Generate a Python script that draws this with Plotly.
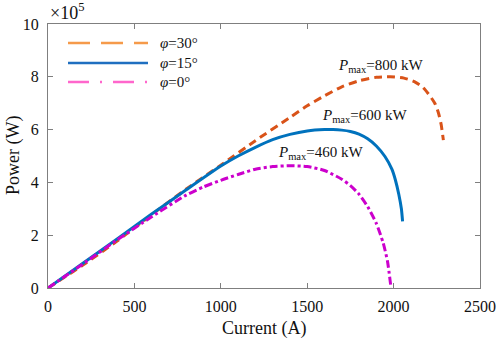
import plotly.graph_objects as go

# ---------------- data (power in units of 10^5 W) ----------------
labels = ["φ=30°", "φ=15°", "φ=0°"]

i30 = [0, 200, 400, 600, 800, 1000, 1200, 1400, 1500, 1600, 1700, 1800, 1900, 1980,
       2060, 2120, 2170, 2210, 2240, 2260, 2275, 2288]
p30 = [0, 0.86, 1.78, 2.78, 3.75, 4.65, 5.58, 6.46, 6.9, 7.28, 7.62, 7.85, 7.98, 8.0,
       7.95, 7.82, 7.6, 7.28, 6.98, 6.62, 6.2, 5.6]

i15 = [0, 200, 400, 600, 800, 1000, 1100, 1200, 1300, 1400, 1500, 1600, 1650, 1700,
       1750, 1800, 1850, 1900, 1950, 1990, 2010, 2030, 2045, 2052]
p15 = [0, 0.93, 1.86, 2.8, 3.72, 4.62, 5.0, 5.33, 5.62, 5.82, 5.95, 6.0, 6.0, 5.98,
       5.93, 5.83, 5.65, 5.38, 4.98, 4.5, 4.1, 3.55, 3.0, 2.52]

i0 = [0, 200, 400, 600, 800, 900, 1000, 1100, 1200, 1300, 1400, 1500, 1600, 1700,
      1750, 1800, 1850, 1900, 1940, 1965, 1985]
p0 = [0, 0.9, 1.82, 2.7, 3.52, 3.83, 4.08, 4.3, 4.5, 4.6, 4.63, 4.6, 4.45, 4.12,
      3.88, 3.55, 3.08, 2.45, 1.7, 1.0, 0]

pmax_text = ["800 kW", "600 kW", "460 kW"]
x_ticks = [0, 500, 1000, 1500, 2000, 2500]
y_ticks = [0, 2, 4, 6, 8, 10]

# ---------------- styles ----------------
FONT = "Liberation Serif"
TXT = "#111111"
curve_colors = ["#D95319", "#0072BD", "#CC00CC"]
legend_colors = ["#F59A4A", "#1F6FC0", "#FF66CC"]
curve_dash = ["8px,5px", "solid", "8px,3px,3px,3px"]
legend_dash = ["22px,11px", "solid", "21px,11px,2px,11px"]

W, H = 498, 339
ML, MT = 48, 24
PW, PH = 432, 264
MR, MB = W - ML - PW, H - MT - PH


def px_to_paper(px, py):
    """page pixel -> paper coordinates"""
    return (px - ML) / PW, (MT + PH - py) / PH


fig = go.Figure()
series = [(i30, p30), (i15, p15), (i0, p0)]
for k, (xs, ys) in enumerate(series):
    fig.add_trace(go.Scatter(x=xs, y=ys, mode="lines", showlegend=False,
                             line=dict(color=curve_colors[k], width=3, dash=curve_dash[k],
                                       shape="spline", smoothing=0.6)))

# manual legend (long line samples as in the reference)
legend_rows = [43, 63, 82]
for k in range(3):
    x0, yk = px_to_paper(68, legend_rows[k])
    x1, _ = px_to_paper(148, legend_rows[k])
    xt, _ = px_to_paper(158, legend_rows[k])
    fig.add_shape(type="line", xref="paper", yref="paper", x0=x0, x1=x1, y0=yk, y1=yk,
                  line=dict(color=legend_colors[k], width=2.5, dash=legend_dash[k]))
    sym, val = labels[k].split("=")
    fig.add_annotation(x=xt, y=yk, xref="paper", yref="paper", xanchor="left",
                       yanchor="middle", showarrow=False,
                       text="<i>" + sym + "</i>=" + val,
                       font=dict(family=FONT, size=15, color=TXT))

ann_pos = [(1927, 8.42), (1830, 6.5), (1576, 5.13)]
for k in range(3):
    fig.add_annotation(x=ann_pos[k][0], y=ann_pos[k][1], xref="x", yref="y",
                       text="<i>P</i><sub>max</sub>=" + pmax_text[k], showarrow=False,
                       font=dict(family=FONT, size=15, color=TXT))

# exponent label
ex, ey = px_to_paper(48, 25)
fig.add_annotation(x=ex, y=ey, xref="paper", yref="paper", xanchor="left", yanchor="bottom",
                   text="×10<sup>5</sup>", showarrow=False,
                   font=dict(family=FONT, size=18, color=TXT))

# axis titles
tx, ty = px_to_paper(264, 328)
fig.add_annotation(x=tx, y=ty, xref="paper", yref="paper", xanchor="center", yanchor="middle",
                   text="Current (A)", showarrow=False,
                   font=dict(family=FONT, size=18, color=TXT))
tx, ty = px_to_paper(13, 156)
fig.add_annotation(x=tx, y=ty, xref="paper", yref="paper", xanchor="center", yanchor="middle",
                   text="Power (W)", textangle=-90, showarrow=False,
                   font=dict(family=FONT, size=18, color=TXT))

axis_common = dict(showline=True, linecolor="#7f7f7f", linewidth=1, mirror="ticks",
                   ticks="inside", ticklen=5, tickcolor="#7f7f7f", showgrid=False,
                   zeroline=False, automargin=False,
                   tickfont=dict(family=FONT, size=16, color=TXT))

fig.update_xaxes(range=[0, 2500], tickvals=x_ticks, ticktext=[str(v) for v in x_ticks],
                 ticklabelstandoff=4, **axis_common)
fig.update_yaxes(range=[0, 10], tickvals=y_ticks, ticktext=[str(v) for v in y_ticks],
                 ticklabelstandoff=5, **axis_common)

fig.update_layout(
    width=W, height=H,
    margin=dict(l=ML, r=MR, t=MT, b=MB, autoexpand=False),
    paper_bgcolor="white", plot_bgcolor="white",
    showlegend=False,
)

# remove the default 8px page margin so the figure fills the window exactly
fig.write_html("out.html", config={"displayModeBar": False},
               post_script="document.body.style.margin='0px';")
